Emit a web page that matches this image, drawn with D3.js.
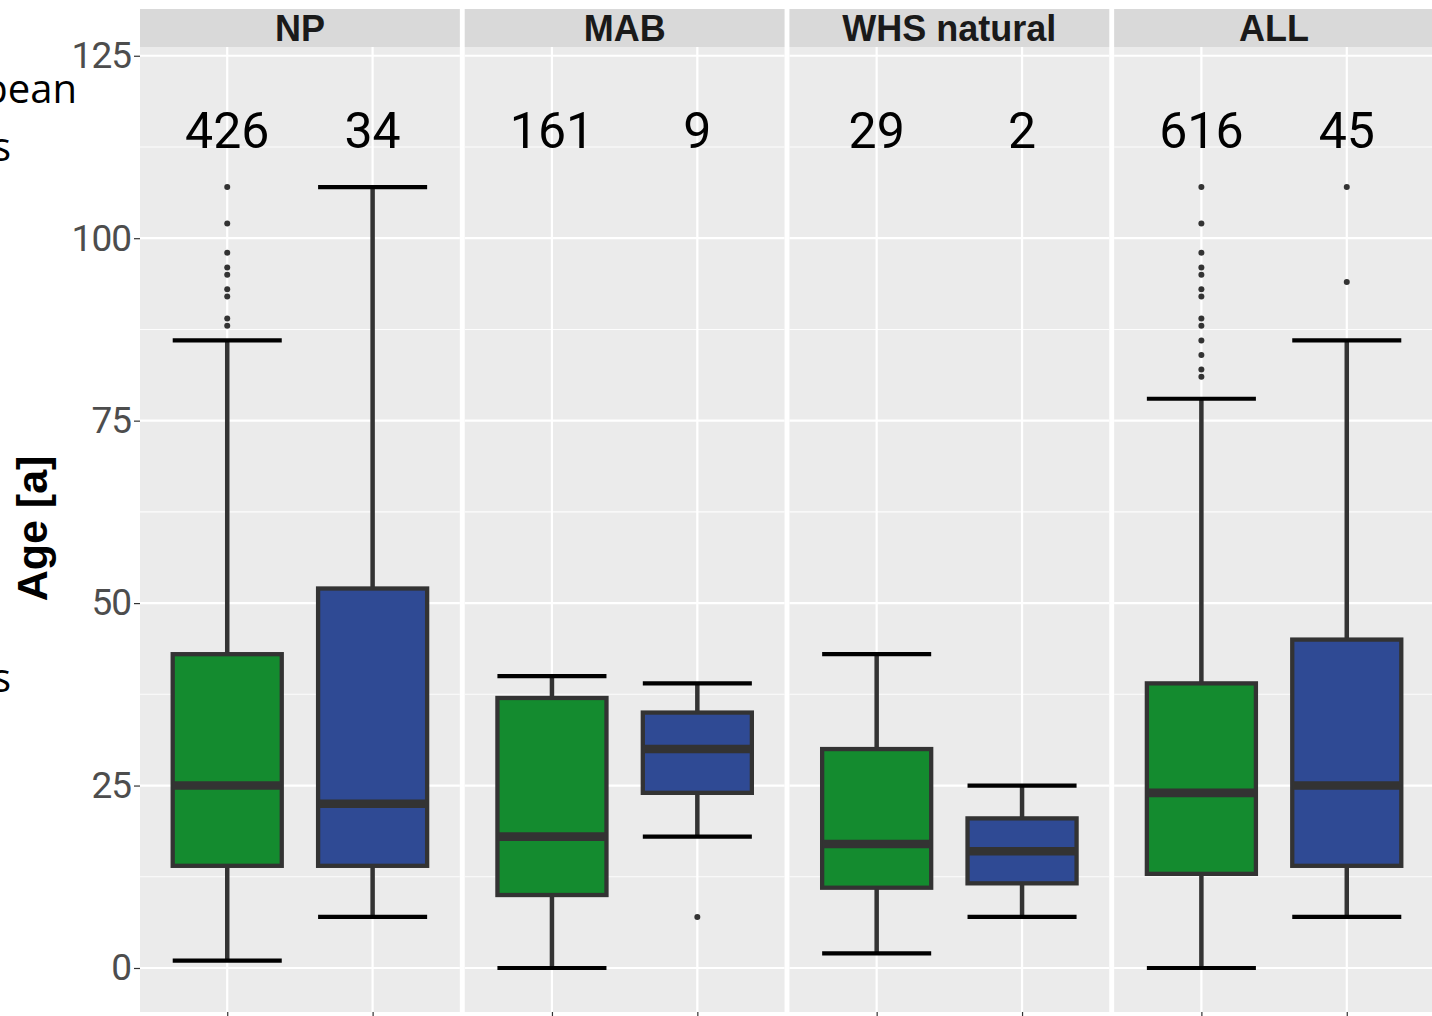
<!DOCTYPE html>
<html>
<head>
<meta charset="utf-8">
<script src="https://cdn.jsdelivr.net/npm/d3@7"></script>
<style>
	html, body { margin: 0; padding: 0; background: #ffffff; }
	svg { display: block; font-family: Roboto, "Noto Sans", sans-serif; }
</style>
</head>
<body>
<svg id="chart" width="1432" height="1016" viewBox="0 0 1432 1016"></svg>
<script>

// panels (facets) and the two groups inside each one
const panels = ["NP", "MAB", "WHS natural", "ALL"];
const groups = ["g1", "g2"];
const group_colors = ["#148b2f", "#2f4a94"];

// sample sizes printed above the boxes
const counts = [[426, 34], [161, 9], [29, 2], [616, 45]];

// box statistics, one pair per panel
const whisker_low = [[1, 7], [0, 18], [2, 7], [0, 7]];
const q1 = [[14, 14], [10, 24], [11, 11.6], [12.9, 14]];
const medians = [[25, 22.5], [18, 30], [17, 16], [24, 25]];
const q3 = [[43, 52], [37, 35], [30, 20.5], [39, 45]];
const whisker_high = [[86, 107], [40, 39], [43, 25], [78, 86]];

// outliers
const outliers = [
	[[107, 102, 98, 96, 95, 93, 92, 89, 88], []],
	[[], [7]],
	[[], []],
	[[107, 102, 98, 96, 95, 93, 92, 89, 88, 86, 84, 82, 81], [107, 94]]
];

const y_ticks = [0, 25, 50, 75, 100, 125];
const y_minor = [12.5, 37.5, 62.5, 87.5, 112.5];
const count_label_y = 115;

function whenDocumentLoaded(action) {
	if (document.readyState === "loading") {
		document.addEventListener("DOMContentLoaded", action);
	} else {
		action();
	}
}

whenDocumentLoaded(() => {
	const svg = d3.select("#chart");

	const strip_top = 9, panel_top = 47, panel_bottom = 1012;

	const y = d3.scaleLinear()
		.domain([-6.03, 126.2])
		.range([panel_bottom, panel_top]);

	const x_panel = d3.scaleBand()
		.domain(panels)
		.range([140, 1434])
		.paddingInner(0.015)
		.paddingOuter(0);

	const x_group = d3.scalePoint()
		.domain(groups)
		.range([0, x_panel.bandwidth()])
		.padding(0.6);

	const box_w = x_group.step() * 0.75;

	// slide text cut off at the left edge (as in the original screenshot)
	const slide = svg.append("g")
		.style("font-family", "'Open Sans', sans-serif")
		.style("font-size", "40px")
		.attr("fill", "#000");
	slide.append("text").attr("x", 77).attr("y", 103).attr("text-anchor", "end").text("European");
	slide.append("text").attr("x", 11).attr("y", 161).attr("text-anchor", "end").text("areas");
	slide.append("text").attr("x", 11).attr("y", 692).attr("text-anchor", "end").text("areas");

	// y axis title
	svg.append("text")
		.attr("transform", "translate(47," + ((panel_top + panel_bottom) / 2 - 1) + ") rotate(-90)")
		.attr("text-anchor", "middle")
		.style("font-family", "'Liberation Sans', Arial, sans-serif")
		.style("font-size", "43px")
		.style("font-weight", "bold")
		.attr("fill", "#000")
		.text("Age [a]");

	// y axis
	const y_axis = svg.append("g")
		.attr("transform", "translate(" + x_panel.range()[0] + ",0)")
		.call(d3.axisLeft(y).tickValues(y_ticks).tickSize(6).tickPadding(3));
	y_axis.select(".domain").remove();
	y_axis.selectAll(".tick line").attr("stroke", "#333333").attr("stroke-width", 1.2);
	y_axis.selectAll(".tick text")
		.attr("fill", "#4d4d4d")
		.style("font-size", "37px")
		.style("letter-spacing", "-1px")
		.style("font-family", "Roboto, sans-serif");

	panels.forEach((panel, pi) => {
		const px = x_panel(panel);
		const pw = x_panel.bandwidth();
		const g = svg.append("g").attr("transform", "translate(" + px + ",0)");

		// strip
		g.append("rect")
			.attr("x", 0).attr("y", strip_top)
			.attr("width", pw).attr("height", panel_top - strip_top)
			.attr("fill", "#d9d9d9");
		g.append("text")
			.attr("x", pw / 2).attr("y", (strip_top + panel_top) / 2)
			.attr("dy", "0.36em")
			.attr("text-anchor", "middle")
			.style("font-family", "'Liberation Sans', Arial, sans-serif")
			.style("font-size", "36px")
			.style("font-weight", "bold")
			.attr("fill", "#1a1a1a")
			.text(panel);

		// panel background
		g.append("rect")
			.attr("x", 0).attr("y", panel_top)
			.attr("width", pw).attr("height", panel_bottom - panel_top)
			.attr("fill", "#ebebeb");

		// grid
		g.selectAll(".minor")
			.data(y_minor).enter().append("line")
			.attr("x1", 0).attr("x2", pw)
			.attr("y1", d => y(d)).attr("y2", d => y(d))
			.attr("stroke", "#ffffff").attr("stroke-width", 1.1).attr("opacity", 0.9);
		g.selectAll(".major")
			.data(y_ticks).enter().append("line")
			.attr("x1", 0).attr("x2", pw)
			.attr("y1", d => y(d)).attr("y2", d => y(d))
			.attr("stroke", "#ffffff").attr("stroke-width", 2.2);
		g.selectAll(".vmajor")
			.data(groups).enter().append("line")
			.attr("x1", d => x_group(d)).attr("x2", d => x_group(d))
			.attr("y1", panel_top).attr("y2", panel_bottom)
			.attr("stroke", "#ffffff").attr("stroke-width", 2.2);

		// x axis ticks
		const x_axis = g.append("g")
			.attr("transform", "translate(0," + panel_bottom + ")")
			.call(d3.axisBottom(x_group).tickSize(6).tickFormat(""));
		x_axis.select(".domain").remove();
		x_axis.selectAll(".tick line").attr("stroke", "#333333").attr("stroke-width", 1.2);

		groups.forEach((grp, gi) => {
			const cx = x_group(grp);
			const bg = g.append("g");

			// whiskers
			bg.append("line")
				.attr("x1", cx).attr("x2", cx)
				.attr("y1", y(q3[pi][gi])).attr("y2", y(whisker_high[pi][gi]))
				.attr("stroke", "#333333").attr("stroke-width", 4.5);
			bg.append("line")
				.attr("x1", cx).attr("x2", cx)
				.attr("y1", y(q1[pi][gi])).attr("y2", y(whisker_low[pi][gi]))
				.attr("stroke", "#333333").attr("stroke-width", 4.5);

			// whisker caps
			[whisker_low[pi][gi], whisker_high[pi][gi]].forEach(v => {
				bg.append("line")
					.attr("x1", cx - box_w / 2).attr("x2", cx + box_w / 2)
					.attr("y1", y(v)).attr("y2", y(v))
					.attr("stroke", "#000000").attr("stroke-width", 4.2);
			});

			// box
			bg.append("rect")
				.attr("x", cx - box_w / 2)
				.attr("y", y(q3[pi][gi]))
				.attr("width", box_w)
				.attr("height", y(q1[pi][gi]) - y(q3[pi][gi]))
				.attr("fill", group_colors[gi])
				.attr("stroke", "#333333")
				.attr("stroke-width", 4.3);

			// median
			bg.append("line")
				.attr("x1", cx - box_w / 2).attr("x2", cx + box_w / 2)
				.attr("y1", y(medians[pi][gi])).attr("y2", y(medians[pi][gi]))
				.attr("stroke", "#333333").attr("stroke-width", 8.6);

			// outliers
			bg.selectAll(".outlier")
				.data(outliers[pi][gi]).enter().append("circle")
				.attr("cx", cx).attr("cy", d => y(d))
				.attr("r", 3)
				.attr("fill", "#333333");

			// count
			bg.append("text")
				.attr("x", cx).attr("y", y(count_label_y))
				.attr("dy", "0.38em")
				.attr("text-anchor", "middle")
				.style("font-size", "50px")
				.attr("fill", "#000")
				.text(counts[pi][gi]);
		});
	});
});
</script>
</body>
</html>
